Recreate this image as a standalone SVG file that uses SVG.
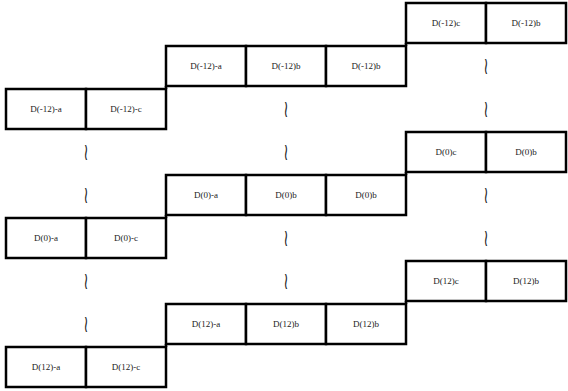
<svg xmlns="http://www.w3.org/2000/svg" width="568" height="391" viewBox="0 0 568 391">
<style>
.b{fill:#fff;stroke:#000;stroke-width:2.5}
.t{font-family:"Liberation Serif",serif;font-size:9px;fill:#222;text-anchor:middle}
.w{font-family:"DejaVu Sans",sans-serif;font-size:24px;fill:#222;text-anchor:middle}
.c{stroke:#000;stroke-width:2.5;fill:none}
</style>
<rect width="568" height="391" fill="#fff"/>
<g id="connectors">
<line class="c" x1="406" y1="43" x2="406" y2="46"/>
<line class="c" x1="166" y1="86" x2="166" y2="89"/>
<line class="c" x1="406" y1="172" x2="406" y2="175"/>
<line class="c" x1="166" y1="215" x2="166" y2="218"/>
<line class="c" x1="406" y1="301" x2="406" y2="304"/>
<line class="c" x1="166" y1="344" x2="166" y2="347"/>
</g>
<g id="rowA">
<rect class="b" x="406" y="3" width="80" height="40"/><text class="t" x="446" y="26">D(-12)c</text>
<rect class="b" x="486" y="3" width="80" height="40"/><text class="t" x="526" y="26">D(-12)b</text>
</g>
<g id="rowB">
<rect class="b" x="166" y="46" width="80" height="40"/><text class="t" x="206" y="69">D(-12)-a</text>
<rect class="b" x="246" y="46" width="80" height="40"/><text class="t" x="286" y="69">D(-12)b</text>
<rect class="b" x="326" y="46" width="80" height="40"/><text class="t" x="366" y="69">D(-12)b</text>
</g>
<g id="rowC">
<rect class="b" x="6" y="89" width="80" height="40"/><text class="t" x="46" y="112">D(-12)-a</text>
<rect class="b" x="86" y="89" width="80" height="40"/><text class="t" x="126" y="112">D(-12)-c</text>
</g>
<g id="rowD">
<rect class="b" x="406" y="132" width="80" height="40"/><text class="t" x="446" y="155">D(0)c</text>
<rect class="b" x="486" y="132" width="80" height="40"/><text class="t" x="526" y="155">D(0)b</text>
</g>
<g id="rowE">
<rect class="b" x="166" y="175" width="80" height="40"/><text class="t" x="206" y="198">D(0)-a</text>
<rect class="b" x="246" y="175" width="80" height="40"/><text class="t" x="286" y="198">D(0)b</text>
<rect class="b" x="326" y="175" width="80" height="40"/><text class="t" x="366" y="198">D(0)b</text>
</g>
<g id="rowF">
<rect class="b" x="6" y="218" width="80" height="40"/><text class="t" x="46" y="241">D(0)-a</text>
<rect class="b" x="86" y="218" width="80" height="40"/><text class="t" x="126" y="241">D(0)-c</text>
</g>
<g id="rowG">
<rect class="b" x="406" y="261" width="80" height="40"/><text class="t" x="446" y="284">D(12)c</text>
<rect class="b" x="486" y="261" width="80" height="40"/><text class="t" x="526" y="284">D(12)b</text>
</g>
<g id="rowH">
<rect class="b" x="166" y="304" width="80" height="40"/><text class="t" x="206" y="327">D(12)-a</text>
<rect class="b" x="246" y="304" width="80" height="40"/><text class="t" x="286" y="327">D(12)b</text>
<rect class="b" x="326" y="304" width="80" height="40"/><text class="t" x="366" y="327">D(12)b</text>
</g>
<g id="rowI">
<rect class="b" x="6" y="347" width="80" height="40"/><text class="t" x="46" y="370">D(12)-a</text>
<rect class="b" x="86" y="347" width="80" height="40"/><text class="t" x="126" y="370">D(12)-c</text>
</g>
<g id="gaps">
<text class="w" transform="translate(486,74) scale(0.55,1)">≀</text>
<text class="w" transform="translate(486,117) scale(0.55,1)">≀</text>
<text class="w" transform="translate(486,203) scale(0.55,1)">≀</text>
<text class="w" transform="translate(486,246) scale(0.55,1)">≀</text>
<text class="w" transform="translate(286,117) scale(0.55,1)">≀</text>
<text class="w" transform="translate(286,160) scale(0.55,1)">≀</text>
<text class="w" transform="translate(286,246) scale(0.55,1)">≀</text>
<text class="w" transform="translate(286,289) scale(0.55,1)">≀</text>
<text class="w" transform="translate(86,160) scale(0.55,1)">≀</text>
<text class="w" transform="translate(86,203) scale(0.55,1)">≀</text>
<text class="w" transform="translate(86,289) scale(0.55,1)">≀</text>
<text class="w" transform="translate(86,332) scale(0.55,1)">≀</text>
</g>
</svg>
